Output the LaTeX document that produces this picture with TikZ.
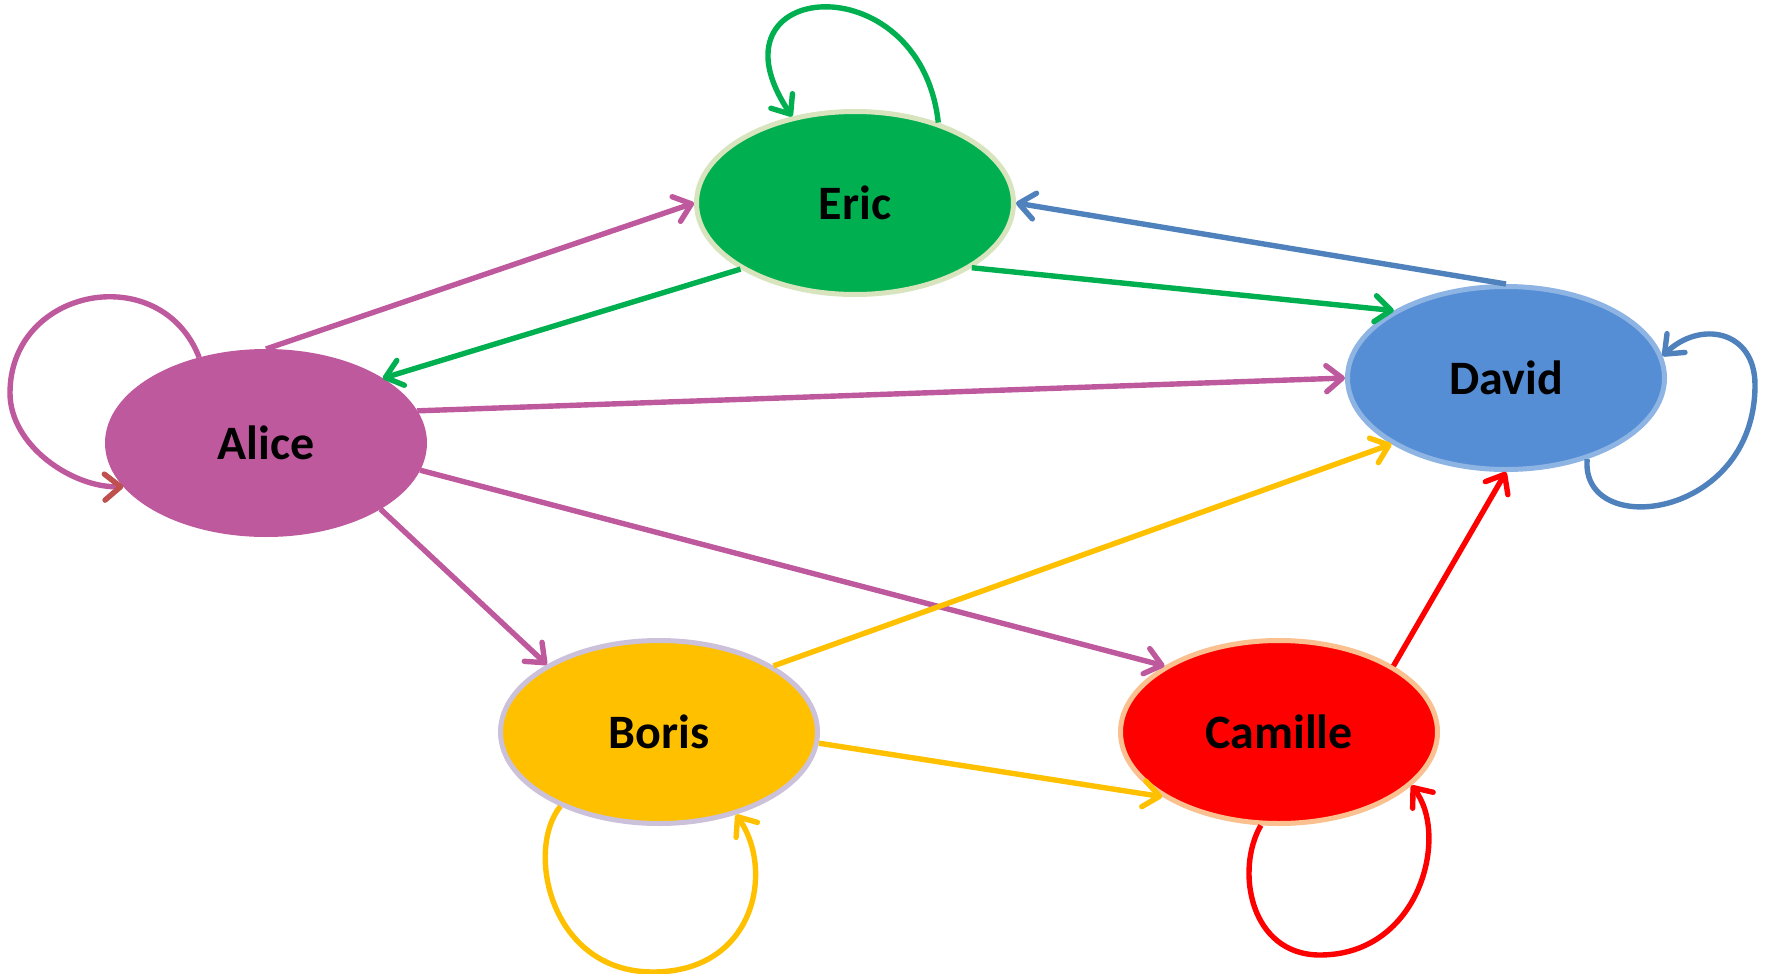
\documentclass[tikz,border=0pt]{standalone}
\usepackage{fontspec}
\setmainfont{Carlito}
\usetikzlibrary{shapes.geometric,arrows.meta,calc}

\definecolor{alicecol}{RGB}{190,89,158}
\definecolor{alicetip}{RGB}{192,80,77}
\definecolor{ericcol}{RGB}{0,176,80}
\definecolor{ericrim}{RGB}{215,228,189}
\definecolor{davidcol}{RGB}{85,142,213}
\definecolor{davidrim}{RGB}{142,180,227}
\definecolor{davidline}{RGB}{79,129,189}
\definecolor{boriscol}{RGB}{255,192,0}
\definecolor{borisrim}{RGB}{204,193,218}
\definecolor{camillecol}{RGB}{255,0,0}
\definecolor{camillerim}{RGB}{250,192,144}

\begin{document}
\begin{tikzpicture}[x=1pt,y=-1pt,
  person/.style={ellipse, minimum width=317pt, minimum height=183pt,
    inner sep=0pt, line width=5pt,
    font=\fontsize{48}{56}\selectfont\bfseries},
  edgeline/.style={line width=5.4pt,
    -{Straight Barb[length=16pt,width=26pt,round]}},
]
\useasboundingbox (0,0) rectangle (1765,974);

% people
\node[person, fill=alicecol, draw=alicecol] (alice) at (266,443) {Alice};
\node[person, fill=ericcol, draw=ericrim] (eric) at (855,203) {Eric};
\node[person, fill=davidcol, draw=davidrim] (david) at (1506,378) {David};
\node[person, fill=boriscol, draw=borisrim] (boris) at (659,732) {Boris};
\node[person, fill=camillecol, draw=camillerim] (camille) at (1279,732) {Camille};

% links between people
\draw[edgeline, alicecol] (alice.90) -- (eric.180);
\draw[edgeline, ericcol] (eric.210) -- (alice.29.4);
\draw[edgeline, davidline] (david.90) -- (eric.0);
\draw[edgeline, ericcol] (eric.-29.9) -- (david.149.5);
\draw[edgeline, alicecol] (alice.12.3) -- (david.180);
\draw[edgeline, alicecol] (alice.-30.4) -- (boris.149);
\draw[edgeline, alicecol] (alice.-10.7) -- (camille.150.4);
\draw[edgeline, boriscol] (boris.30.7) -- (david.210);
\draw[edgeline, boriscol] (boris.-4) -- (camille.209.7);
\draw[edgeline, camillecol] (camille.30.3) -- (david.-90);

% self loops
\draw[line width=5.4pt, alicecol,
  -{Straight Barb[length=16pt,width=26pt,round,color=alicetip]}]
  (alice.128.7) .. controls ($(alice)+(-105,-184)$) and ($(alice)+(-256,-156)$)
  .. ($(alice)+(-256,-50)$)
  .. controls ($(alice)+(-256,3)$) and ($(alice)+(-193,45)$) .. (alice.197.7);

\draw[edgeline, ericcol]
  (eric.44) .. controls ($(eric)+(65,-243)$) and ($(eric)+(-155,-223)$) .. (eric.126.5);

\draw[edgeline, davidline]
  (david.-45) .. controls ($(david)+(74,162)$) and ($(david)+(249,142)$)
  .. ($(david)+(249,7)$)
  .. controls ($(david)+(249,-48)$) and ($(david)+(194,-58)$) .. (david.8.8);

\draw[edgeline, boriscol]
  (boris.217.4) .. controls ($(boris)+(-134,118)$) and ($(boris)+(-109,240)$)
  .. ($(boris)+(-6,240)$)
  .. controls ($(boris)+(96,240)$) and ($(boris)+(116,138)$) .. (boris.-47.2);

\draw[edgeline, camillecol]
  (camille.259.9) .. controls ($(camille)+(-44,138)$) and ($(camille)+(-29,223)$)
  .. ($(camille)+(41,223)$)
  .. controls ($(camille)+(141,223)$) and ($(camille)+(171,103)$) .. (camille.-22.3);
\end{tikzpicture}
\end{document}
